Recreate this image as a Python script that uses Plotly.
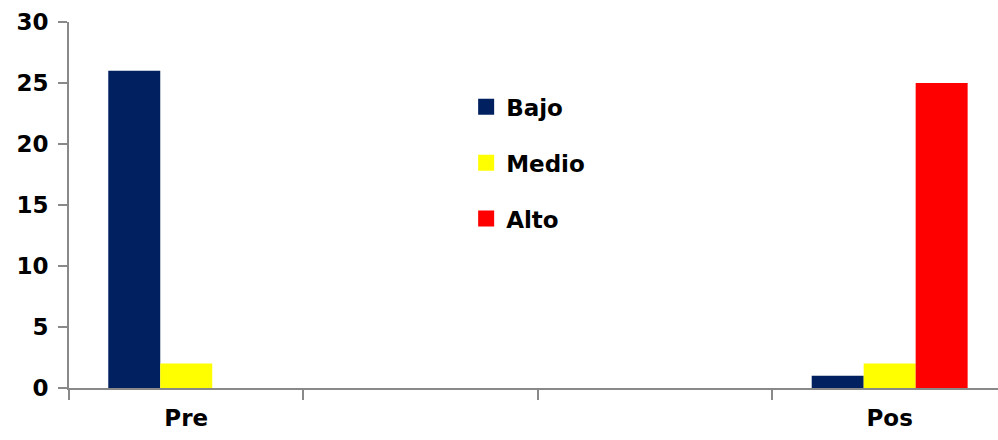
import plotly.graph_objects as go

# Categories on the x axis (two unlabeled slots between Pre and Pos)
categories = ["Pre", " ", "  ", "Pos"]

# Counts per level
bajo = [26, None, None, 1]
medio = [2, None, None, 2]
alto = [0, None, None, 25]

series_names = ["Bajo", "Medio", "Alto"]
series_values = [bajo, medio, alto]
series_colors = ["#002060", "#FFFF00", "#FF0000"]

y_ticks = [0, 5, 10, 15, 20, 25, 30]

AXIS_COLOR = "#898989"
FONT = dict(family="DejaVu Sans", size=23, color="#000000", weight="bold")

fig = go.Figure()

for name, vals, color in zip(series_names, series_values, series_colors):
    fig.add_trace(go.Bar(
        x=categories, y=vals, name=name,
        marker=dict(color=color, line=dict(width=0)),
        showlegend=False,
    ))

# Legend entries with larger square swatches
for i, (name, color) in enumerate(zip(series_names, series_colors)):
    fig.add_trace(go.Scatter(
        x=[None], y=[None], mode="markers", name=name,
        marker=dict(symbol="square", size=16, color=color),
        legendgroup=f"g{i}", showlegend=True,
    ))

fig.update_layout(
    width=998, height=440,
    margin=dict(l=69, r=0, t=22, b=52),
    paper_bgcolor="white", plot_bgcolor="white",
    barmode="group", bargap=0.335, bargroupgap=0,
    font=FONT,
    legend=dict(
        x=0.4275, y=0.827, xanchor="left", yanchor="top",
        font=FONT,
        tracegroupgap=23, bgcolor="rgba(0,0,0,0)",
    ),
)

fig.update_xaxes(
    type="category", categoryorder="array", categoryarray=categories,
    range=[-0.5, 3.462],
    showline=True, linecolor=AXIS_COLOR, linewidth=2,
    ticks="outside", tickson="boundaries", ticklen=10, tickwidth=2, tickcolor=AXIS_COLOR,
    showgrid=False, zeroline=False,
    tickfont=FONT, ticklabelstandoff=8,
)

fig.update_yaxes(
    range=[0, 30], tickvals=y_ticks,
    showline=True, linecolor=AXIS_COLOR, linewidth=2,
    ticks="outside", ticklen=9, tickwidth=2, tickcolor=AXIS_COLOR,
    showgrid=False, zeroline=False,
    tickfont=FONT, ticklabelstandoff=5,
)

fig.write_html("out.html")
